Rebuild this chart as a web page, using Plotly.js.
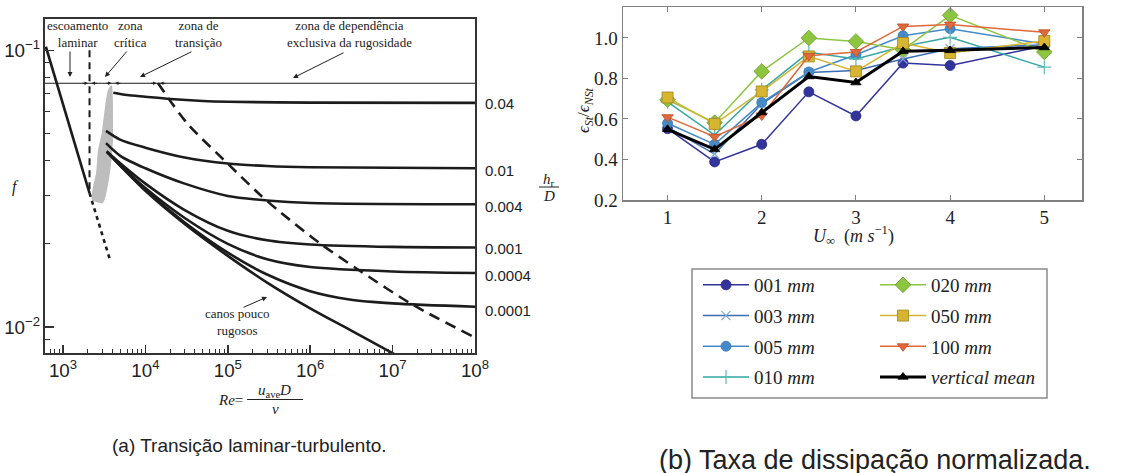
<!DOCTYPE html>
<html><head><meta charset="utf-8">
<script src="https://cdn.plot.ly/plotly-3.0.1.min.js"></script>
<style>html,body{margin:0;padding:0;background:#fff;}#chart{width:1142px;height:473px;}</style>
</head><body><div id="chart"></div>
<script>
// ================= DATA: panel (a) Moody-type diagram =================
const laminarRe = [620, 2100];
const laminarF = [0.103, 0.0305];
const laminarExtRe = [2100, 3700];
const laminarExtF = [0.0305, 0.0176];
const laminarLimitRe = [2100, 2100];
const laminarLimitF = [0.100, 0.0303];
const zoneLineRe = [600, 1e8];
const zoneLineF = [0.076, 0.076];
const criticalRe = [3900, 4045, 3720, 3060, 2250, 2315, 2520, 2660, 2950, 3235, 3520, 3900];
const criticalF = [0.0750, 0.0474, 0.0361, 0.0281, 0.0288, 0.0321, 0.0361, 0.0436, 0.0502, 0.0623, 0.0719, 0.0750];
const transitionRe = [14200, 32000, 98000, 246000, 430000, 1.31e6, 4.0e6, 1.77e7, 9.2e7];
const transitionF = [0.0762, 0.0546, 0.0392, 0.0301, 0.0261, 0.0201, 0.0160, 0.01204, 0.0093];

const rough004Re = [4080, 6000, 1e4, 2e4, 5e4, 1e5, 1e6, 1e8];
const rough004F = [0.0703, 0.0690, 0.0680, 0.0667, 0.0656, 0.0652, 0.0647, 0.0646];
const rough01Re = [3330, 5000, 1e4, 3e4, 1e5, 3e5, 1e6, 1e8];
const rough01F = [0.0512, 0.0475, 0.0445, 0.0410, 0.0390, 0.0382, 0.0378, 0.0375];
const rough0040Re = [3330, 5000, 1e4, 3e4, 1e5, 3e5, 1e6, 1e8];
const rough0040F = [0.0462, 0.0415, 0.0375, 0.0330, 0.0298, 0.0287, 0.0281, 0.0278];
const rough001Re = [3400, 5000, 1e4, 3e4, 1e5, 3e5, 1e6, 1e7, 1e8];
const rough001F = [0.0431, 0.0390, 0.0330, 0.0265, 0.0223, 0.0206, 0.0199, 0.0195, 0.0194];
const rough0004Re = [3400, 5000, 1e4, 3e4, 1e5, 3e5, 1e6, 1e7, 1e8];
const rough0004F = [0.0431, 0.0385, 0.0318, 0.0248, 0.0200, 0.0176, 0.0165, 0.0159, 0.0157];
const rough0001Re = [3400, 5000, 1e4, 3e4, 1e5, 3e5, 1e6, 3e6, 1e7, 1e8];
const rough0001F = [0.0431, 0.0383, 0.0313, 0.0239, 0.0186, 0.0155, 0.0135, 0.0126, 0.0122, 0.01186];
const smoothRe = [3400, 5000, 1e4, 3e4, 1e5, 3e5, 1e6, 3e6, 1.05e7];
const smoothF = [0.0431, 0.0382, 0.0311, 0.0236, 0.0181, 0.0145, 0.0117, 0.0098, 0.0080];
const roughnessLabels = ['0.04', '0.01', '0.004', '0.001', '0.0004', '0.0001'];

// ================= DATA: panel (b) normalised dissipation =================
const speeds = [1, 1.5, 2, 2.5, 3, 3.5, 4, 5];
const s001 = [0.552, 0.388, 0.475, 0.734, 0.615, 0.876, 0.864, 0.962];
const s003 = [0.560, 0.427, 0.675, 0.830, 0.840, 0.896, 0.947, 0.967];
const s005 = [0.579, 0.475, 0.681, 0.832, 0.917, 1.011, 1.046, 0.970];
const s010 = [0.685, 0.521, 0.744, 0.929, 0.896, 0.958, 1.003, 0.856];
const s020 = [0.695, 0.582, 0.835, 1.000, 0.983, 0.942, 1.112, 0.931];
const s050 = [0.706, 0.576, 0.736, 0.909, 0.835, 0.975, 0.926, 0.985];
const s100 = [0.609, 0.513, 0.617, 0.912, 0.931, 1.057, 1.066, 1.028];
const sMean = [0.549, 0.450, 0.632, 0.810, 0.780, 0.934, 0.939, 0.953];
const seriesLabels = ['001 <i>mm</i>', '003 <i>mm</i>', '005 <i>mm</i>', '010 <i>mm</i>',
                      '020 <i>mm</i>', '050 <i>mm</i>', '100 <i>mm</i>', '<i>vertical mean</i>'];
const xTicks = [1, 2, 3, 4, 5];

// ================= helpers / styles =================
const W = 1142, H = 473;
const px = v => v / W;
const py = v => 1 - v / H;
const serif = 'Liberation Serif, Times New Roman, serif';
const sans = 'Liberation Sans, Arial, sans-serif';
const ink = '#1c1c1c';

const traces = [];
function leftLine(x, y, opts) {
  traces.push(Object.assign({
    type: 'scatter', mode: 'lines', x: x, y: y, xaxis: 'x', yaxis: 'y',
    showlegend: false, hoverinfo: 'skip',
    line: {color: ink, width: 2.6, shape: 'spline', smoothing: 0.8}
  }, opts || {}));
}
leftLine(criticalRe, criticalF, {fill: 'toself', fillcolor: '#bdbdbd', line: {width: 0, color: '#bdbdbd', shape: 'spline', smoothing: 0.6}});
leftLine(zoneLineRe, zoneLineF, {line: {color: ink, width: 1.1}});
leftLine(laminarRe, laminarF, {line: {color: ink, width: 2.6}});
leftLine(laminarExtRe, laminarExtF, {line: {color: ink, width: 2.6, dash: '4px,4px'}});
leftLine(laminarLimitRe, laminarLimitF, {line: {color: ink, width: 2, dash: '7px,5px'}});
leftLine(transitionRe, transitionF, {line: {color: ink, width: 2.6, dash: '11px,7px', shape: 'spline', smoothing: 0.8}});
[[rough004Re, rough004F], [rough01Re, rough01F], [rough0040Re, rough0040F], [rough001Re, rough001F],
 [rough0004Re, rough0004F], [rough0001Re, rough0001F], [smoothRe, smoothF]].forEach(c => leftLine(c[0], c[1]));

const seriesData = [s001, s003, s005, s010, s020, s050, s100, sMean];
const seriesStyle = [
  {c: '#33339c', sym: 'circle', size: 10, lw: 1.5, mline: '#2a2a88', legend: 'legend'},
  {c: '#3c6eb4', sym: 'x-thin', size: 9, lw: 1.5, mline: '#7fa8d8', legend: 'legend'},
  {c: '#4589c6', sym: 'circle', size: 10, lw: 1.5, mline: '#3a7ab5', legend: 'legend'},
  {c: '#35a6a4', sym: 'cross-thin', size: 10, lw: 1.5, mline: '#5cbcb8', legend: 'legend'},
  {c: '#8cc63f', sym: 'diamond', size: 12, lw: 1.5, mline: '#6b9a2c', legend: 'legend2'},
  {c: '#d8b530', sym: 'square', size: 11, lw: 1.5, mline: '#9c8420', legend: 'legend2'},
  {c: '#e0683a', sym: 'triangle-down', size: 10, lw: 1.5, mline: '#b8502a', legend: 'legend2'},
  {c: '#000000', sym: 'triangle-up', size: 9, lw: 3, mline: '#000000', legend: 'legend2'}
];
seriesData.forEach((d, i) => {
  const s = seriesStyle[i];
  const thin = s.sym.indexOf('thin') >= 0;
  traces.push({
    type: 'scatter', mode: 'lines+markers', x: speeds, y: d, xaxis: 'x2', yaxis: 'y2',
    name: seriesLabels[i], legend: s.legend, legendgroup: 'g' + i, hoverinfo: 'x+y+name',
    line: {color: s.c, width: s.lw},
    marker: {symbol: s.sym, size: s.size, color: s.c, line: {color: s.mline, width: thin ? 1.2 : 0.8}}
  });
});

// ================= annotations =================
const ann = [];
function txt(text, x, y, size, fam, extra) {
  ann.push(Object.assign({xref: 'paper', yref: 'paper', x: px(x), y: py(y), text: text, showarrow: false,
    xanchor: 'center', yanchor: 'middle', font: {family: fam, size: size, color: '#222'}}, extra || {}));
}
function arrow(x, y, ax, ay, size) {
  ann.push({xref: 'paper', yref: 'paper', x: px(x), y: py(y), ax: ax, ay: ay, text: '', showarrow: true,
    arrowhead: 2, arrowsize: size || 1, arrowwidth: 1, arrowcolor: '#222'});
}
txt('escoamento<br>laminar', 77, 34, 13, serif);
txt('zona<br>crítica', 130, 34, 13, serif);
txt('zona de<br>transição', 198, 34, 13, serif);
txt('zona de dependência<br>exclusiva da rugosidade', 349, 34, 13, serif);
arrow(70, 77, 0, -27);
arrow(105, 77, 23, -27);
arrow(140, 77, 53, -26);
arrow(293, 78, 52, -26);
arrow(88, 83.3, -7, 0, 0.7); arrow(91.5, 83.3, 7, 0, 0.7);
arrow(111.5, 83.3, -7, 0, 0.7); arrow(115, 83.3, 7, 0, 0.7);
arrow(156.5, 83.3, -7, 0, 0.7); arrow(160, 83.3, 7, 0, 0.7);
txt('canos pouco<br>rugosos', 237, 322, 13, serif);
arrow(267, 297, -25, 11);
const labelY = [103, 170, 206, 248, 275, 310];
roughnessLabels.forEach((t, i) => txt(t, 483, labelY[i], 15, sans, {xanchor: 'left'}));
txt('<i>h</i><sub>r</sub>', 549, 180, 15, serif);
txt('<i>D</i>', 549, 196, 15, serif);
txt('<i>f</i>', 15, 187, 16, serif);
txt('<i>Re</i>=', 230, 400, 15, serif);
txt('<i>u</i><sub>ave</sub><i>D</i>', 274, 391, 15, serif);
txt('<i>ν</i>', 275, 409, 15, serif);
txt('<i>ϵ</i><sub><i>St</i></sub>/<i>ϵ</i><sub><i>NSt</i></sub>', 585, 110, 17, serif, {textangle: -90});
txt('<i>U</i><sub>∞</sub>  (<i>m s</i><sup>−1</sup>)', 853, 235, 18, serif);
txt('(a) Transição laminar-turbulento.', 249, 445, 19, sans);
txt('(b) Taxa de dissipação normalizada.', 875, 460, 27, sans);

const shapes = [
  {type: 'line', xref: 'paper', yref: 'paper', x0: px(247), x1: px(303), y0: py(399.5), y1: py(399.5), line: {color: '#222', width: 1}},
  {type: 'line', xref: 'paper', yref: 'paper', x0: px(539), x1: px(559), y0: py(187), y1: py(187), line: {color: '#222', width: 1}},
  {type: 'rect', xref: 'paper', yref: 'paper', x0: px(692), x1: px(1047), y0: py(269), y1: py(398), line: {color: '#8a8a8a', width: 1.5}}
];

const legendBase = {
  yanchor: 'top', xanchor: 'left', bgcolor: 'rgba(0,0,0,0)', borderwidth: 0,
  font: {family: serif, size: 19, color: '#222'}, tracegroupgap: 3, itemwidth: 46
};

const layout = {
  width: W, height: H, margin: {l: 0, r: 0, t: 0, b: 0},
  paper_bgcolor: '#fff', plot_bgcolor: 'rgba(0,0,0,0)', showlegend: true,
  xaxis: {domain: [px(45), px(475)], anchor: 'y', type: 'log', range: [2.782, 8.0], dtick: 1,
    exponentformat: 'power', showgrid: false, zeroline: false,
    showline: true, mirror: true, linecolor: '#333', linewidth: 2,
    ticks: 'inside', ticklen: 8, tickcolor: '#333', tickwidth: 1.5,
    minor: {ticks: 'inside', ticklen: 4, dtick: 'D1', tickcolor: '#333', tickwidth: 1, showgrid: false},
    tickfont: {family: sans, size: 15, color: '#222'}},
  yaxis: {domain: [py(353), py(19)], anchor: 'x', type: 'log', range: [-2.093, -0.887], dtick: 1,
    exponentformat: 'power', showgrid: false, zeroline: false,
    showline: true, mirror: true, linecolor: '#333', linewidth: 2,
    ticks: 'inside', ticklen: 9, tickcolor: '#333', tickwidth: 1.5,
    minor: {ticks: 'inside', ticklen: 5, dtick: 'D1', tickcolor: '#333', tickwidth: 1, showgrid: false},
    tickfont: {family: sans, size: 15, color: '#222'}},
  xaxis2: {domain: [px(623), px(1082)], anchor: 'y2', range: [0.527, 5.4], tickvals: xTicks,
    showgrid: false, zeroline: false, showline: true, mirror: 'ticks', linecolor: '#808080', linewidth: 1.5,
    ticks: 'inside', ticklen: 5, tickcolor: '#808080',
    tickfont: {family: serif, size: 19, color: '#222'}},
  yaxis2: {domain: [py(200), py(7)], anchor: 'x2', range: [0.2, 1.153], dtick: 0.2, tick0: 0.2, tickformat: '.1f',
    showgrid: false, zeroline: false, showline: true, mirror: 'ticks', linecolor: '#808080', linewidth: 1.5,
    ticks: 'inside', ticklen: 5, tickcolor: '#808080', tickfont: {family: serif, size: 19, color: '#222'}},
  legend: Object.assign({x: px(698), y: py(266)}, legendBase),
  legend2: Object.assign({x: px(875), y: py(266)}, legendBase),
  annotations: ann,
  shapes: shapes
};

Plotly.newPlot('chart', traces, layout, {displayModeBar: false, staticPlot: true});
</script></body></html>
